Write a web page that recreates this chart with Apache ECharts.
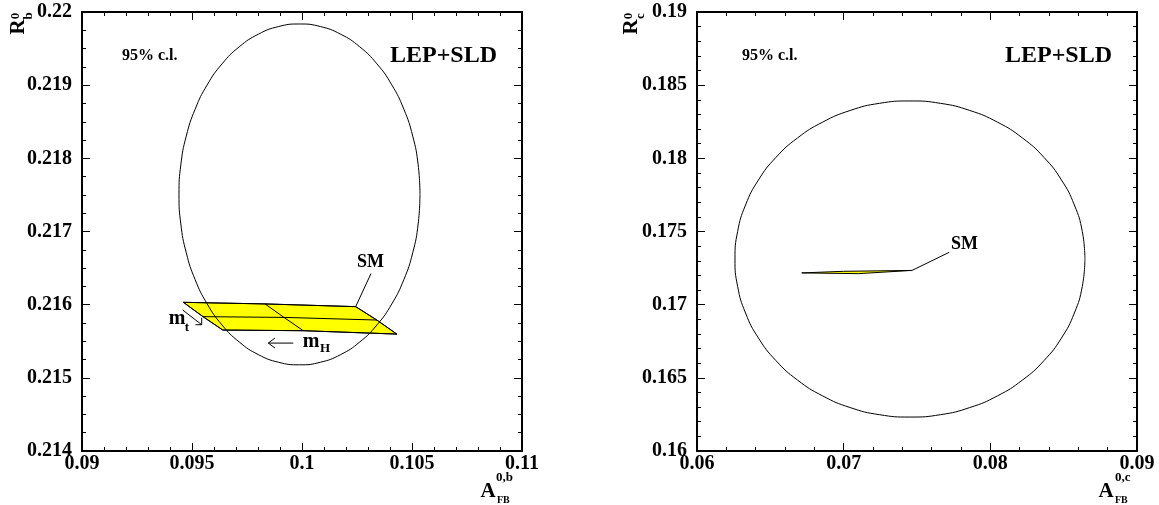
<!DOCTYPE html>
<html><head><meta charset="utf-8">
<script src="https://cdn.jsdelivr.net/npm/echarts/dist/echarts.min.js"></script>
<style>html,body{margin:0;padding:0;background:#fff}#c{width:1159px;height:505px}</style>
</head><body><div id="c"></div>
<script>
// ---- tick labels ----
const xbTickLabels = ['0.09','0.095','0.1','0.105','0.11'];
const ybTickLabels = ['0.214','0.215','0.216','0.217','0.218','0.219','0.22'];
const xcTickLabels = ['0.06','0.07','0.08','0.09'];
const ycTickLabels = ['0.16','0.165','0.17','0.175','0.18','0.185','0.19'];

// ---- 95% c.l. contour, R_b vs A_FB^b ----
const ellBx = [0.105363,0.105280,0.105033,0.104629,0.104081,0.103407,0.102625,0.101759,0.100837,0.099886,0.098935,0.098013,0.097147,0.096365,0.095691,0.095143,0.094739,0.094492,
               0.094409,0.094492,0.094739,0.095143,0.095691,0.096365,0.097147,0.098013,0.098935,0.099886,0.100837,0.101759,0.102625,0.103407,0.104081,0.104629,0.105033,0.105280];
const ellBy = [0.217507,0.217911,0.218304,0.218672,0.219004,0.219291,0.219524,0.219696,0.219801,0.219836,0.219801,0.219696,0.219524,0.219291,0.219004,0.218672,0.218304,0.217911,
               0.217507,0.217103,0.216710,0.216342,0.216010,0.215723,0.215490,0.215318,0.215213,0.215178,0.215213,0.215318,0.215490,0.215723,0.216010,0.216342,0.216710,0.217103];

// ---- 95% c.l. contour, R_c vs A_FB^c ----
const ellCx = [0.08645,0.08627,0.08573,0.08485,0.08366,0.08219,0.08049,0.07860,0.07659,0.07452,0.07245,0.07044,0.06856,0.06685,0.06538,0.06419,0.06331,0.06277,
               0.06259,0.06277,0.06331,0.06419,0.06538,0.06685,0.06856,0.07044,0.07245,0.07452,0.07659,0.07860,0.08049,0.08219,0.08366,0.08485,0.08573,0.08627];
const ellCy = [0.17312,0.17500,0.17681,0.17852,0.18006,0.18139,0.18247,0.18327,0.18376,0.18392,0.18376,0.18327,0.18247,0.18139,0.18006,0.17852,0.17681,0.17500,
               0.17312,0.17125,0.16943,0.16772,0.16618,0.16485,0.16377,0.16297,0.16248,0.16232,0.16248,0.16297,0.16377,0.16485,0.16618,0.16772,0.16943,0.17125];

// ---- SM prediction grid (rows: m_t, columns: m_H), b panel ----
const smBx = [[0.09461,0.09832,0.10244],[0.09550,0.09918,0.10340],[0.09640,0.10006,0.10431]];
const smBy = [[0.216032,0.216010,0.215973],[0.215836,0.215826,0.215790],[0.215653,0.215644,0.215598]];

// ---- SM prediction, c panel ----
const smCx = [0.06714,0.07000,0.07464,0.07100];
const smCy = [0.17217,0.17228,0.17234,0.17212];

// ---- annotation lines (data coordinates) ----
const leaderB = [[0.10244,0.215973],[0.103136,0.216425]];
const leaderC = [[0.07464,0.17233],[0.07720,0.17358]];
const arrowMt = [[0.094577,0.215927],[0.095441,0.215726]];
const arrowMtHead = [[0.095441,0.215822],[0.095441,0.215726],[0.095159,0.215726]];
const arrowMH = [[0.099605,0.215475],[0.098468,0.215475]];
const arrowMHHead = [[0.098773,0.215544],[0.098468,0.215475],[0.098773,0.215407]];

const SERIF = '"Liberation Serif", "DejaVu Serif", serif';

function xAxis(gi, min, max, interval, split, labels, bottom) {
  return {
    gridIndex: gi, type: 'value', min: min, max: max, interval: interval,
    position: bottom ? 'bottom' : 'top',
    axisLine: {show: true, onZero: false, lineStyle: {color: '#000', width: 2}},
    axisTick: {show: true, inside: true, length: 8, lineStyle: {color: '#000', width: 1}},
    minorTick: {show: true, splitNumber: split, length: 4, lineStyle: {color: '#000', width: 1}},
    axisLabel: {show: bottom, margin: 3, color: '#000', fontFamily: SERIF, fontWeight: 'bold', fontSize: 20,
      showMinLabel: true, showMaxLabel: true, hideOverlap: false,
      formatter: v => labels[Math.round((v - min) / interval)]},
    splitLine: {show: false}, minorSplitLine: {show: false}
  };
}
function yAxis(gi, min, max, interval, split, labels, left) {
  return {
    gridIndex: gi, type: 'value', min: min, max: max, interval: interval,
    position: left ? 'left' : 'right',
    axisLine: {show: true, onZero: false, lineStyle: {color: '#000', width: 2}},
    axisTick: {show: true, inside: true, length: 8, lineStyle: {color: '#000', width: 1}},
    minorTick: {show: true, splitNumber: split, length: 4, lineStyle: {color: '#000', width: 1}},
    axisLabel: {show: left, margin: 10, color: '#000', fontFamily: SERIF, fontWeight: 'bold', fontSize: 20,
      showMinLabel: true, showMaxLabel: true, hideOverlap: false,
      formatter: v => labels[Math.round((v - min) / interval)]},
    splitLine: {show: false}, minorSplitLine: {show: false}
  };
}

function closed(xs, ys) {
  const d = xs.map((x, i) => [x, ys[i]]);
  d.push(d[0]);
  return d;
}
function lineSeries(gi, data, opts) {
  return Object.assign({
    type: 'line', xAxisIndex: gi * 2, yAxisIndex: gi * 2, data: data, symbol: 'none',
    lineStyle: {color: '#000', width: 1}, silent: true, animation: false, z: 5
  }, opts || {});
}
function polySeries(gi, pts) {
  return {
    type: 'custom', xAxisIndex: gi * 2, yAxisIndex: gi * 2, silent: true, animation: false, z: 3,
    data: [pts[0]],
    renderItem: function (params, api) {
      return {type: 'polygon', shape: {points: pts.map(p => api.coord(p))},
        style: {fill: '#ffff00', stroke: '#000', lineWidth: 1}};
    }
  };
}

const series = [];
series.push(lineSeries(0, closed(ellBx, ellBy), {smooth: 0.5}));
series.push(lineSeries(1, closed(ellCx, ellCy), {smooth: 0.5}));
// b-panel SM band
const outerB = [[0,0],[0,1],[0,2],[1,2],[2,2],[2,1],[2,0],[1,0]].map(([r,c]) => [smBx[r][c], smBy[r][c]]);
series.push(polySeries(0, outerB));
for (let r = 0; r < 3; r++) series.push(lineSeries(0, smBx[r].map((x, c) => [x, smBy[r][c]])));
for (let c = 0; c < 3; c++) series.push(lineSeries(0, [0,1,2].map(r => [smBx[r][c], smBy[r][c]])));
// c-panel SM band
series.push(polySeries(1, smCx.map((x, i) => [x, smCy[i]])));
// annotations
series.push(lineSeries(0, leaderB));
series.push(lineSeries(1, leaderC));
series.push(lineSeries(0, arrowMt));
series.push(lineSeries(0, arrowMtHead));
series.push(lineSeries(0, arrowMH));
series.push(lineSeries(0, arrowMHHead));

function txt(x, y, s, size, align, rot) {
  return {type: 'text', x: x, y: y, rotation: rot || 0, silent: true, z: 10,
    style: {text: s, fill: '#000', font: 'bold ' + size + 'px ' + SERIF, textAlign: align || 'left', textVerticalAlign: 'middle'}};
}

const graphic = [
  txt(122, 56, '95% c.l.', 16), txt(390, 56, 'LEP+SLD', 24),
  txt(742, 56, '95% c.l.', 16), txt(1005, 56, 'LEP+SLD', 24),
  txt(357, 262, 'SM', 18), txt(951, 244, 'SM', 18),
  txt(177, 319, 'm', 20, 'center'), txt(187, 328, 't', 13, 'center'),
  txt(311, 342, 'm', 20, 'center'), txt(325, 349, 'H', 13, 'center'),
  // x axis names
  txt(488, 492, 'A', 21, 'center'), txt(496, 478, '0,b', 13), txt(497, 500, 'FB', 10),
  txt(1106, 492, 'A', 21, 'center'), txt(1115, 478, '0,c', 13), txt(1115, 500, 'FB', 10),
  // y axis names (rotated)
  txt(19, 27, 'R', 21, 'center', Math.PI / 2), txt(16, 16, '0', 13, 'center', Math.PI / 2), txt(29, 16, 'b', 13, 'center', Math.PI / 2),
  txt(632, 27, 'R', 21, 'center', Math.PI / 2), txt(629, 16, '0', 13, 'center', Math.PI / 2), txt(641, 16, 'c', 13, 'center', Math.PI / 2)
];

const chart = echarts.init(document.getElementById('c'), null, {renderer: 'canvas'});
chart.setOption({
  animation: false,
  backgroundColor: '#fff',
  grid: [{left: 82, top: 12, width: 440, height: 439}, {left: 697, top: 12, width: 440, height: 439}],
  xAxis: [
    xAxis(0, 0.09, 0.11, 0.005, 5, xbTickLabels, true), xAxis(0, 0.09, 0.11, 0.005, 5, xbTickLabels, false),
    xAxis(1, 0.06, 0.09, 0.01, 5, xcTickLabels, true), xAxis(1, 0.06, 0.09, 0.01, 5, xcTickLabels, false)
  ],
  yAxis: [
    yAxis(0, 0.214, 0.22, 0.001, 4, ybTickLabels, true), yAxis(0, 0.214, 0.22, 0.001, 4, ybTickLabels, false),
    yAxis(1, 0.16, 0.19, 0.005, 5, ycTickLabels, true), yAxis(1, 0.16, 0.19, 0.005, 5, ycTickLabels, false)
  ],
  series: series,
  graphic: graphic
});
</script></body></html>
